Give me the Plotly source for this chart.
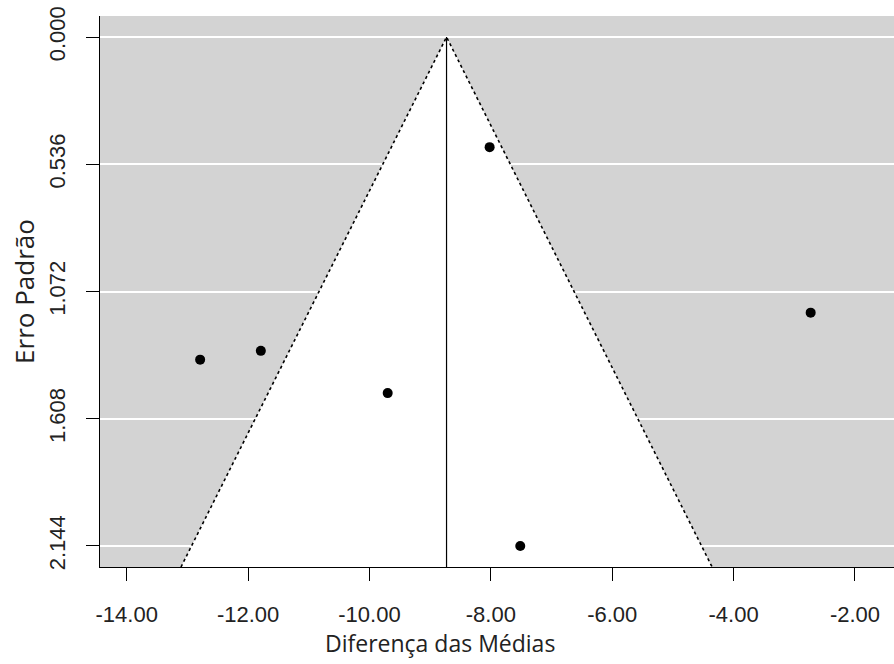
import plotly.graph_objects as go

# Study data
mean_diff = [-8.02, -2.73, -12.79, -11.79, -9.70, -7.515]
std_err = [0.464, 1.161, 1.359, 1.322, 1.500, 2.144]

# Pooled estimate and funnel settings
pooled = -8.73
z = 1.96

x_ticks = [-14, -12, -10, -8, -6, -4, -2]
x_tick_text = ["-14.00", "-12.00", "-10.00", "-8.00", "-6.00", "-4.00", "-2.00"]
y_ticks = [0.0, 0.536, 1.072, 1.608, 2.144]
y_tick_text = ["0.000", "0.536", "1.072", "1.608", "2.144"]

x_range = [-14.44, -1.357]
y_bottom = 2.2325
y_top = -0.0885

funnel_x = [pooled - z * y_bottom, pooled, pooled + z * y_bottom]
funnel_y = [y_bottom, 0.0, y_bottom]

fig = go.Figure()
# white funnel region
fig.add_trace(go.Scatter(
    x=funnel_x + [funnel_x[0]], y=funnel_y + [funnel_y[0]],
    fill="toself", fillcolor="white", mode="lines",
    line=dict(width=0, color="white"), hoverinfo="skip", showlegend=False))
# dotted funnel edges
fig.add_trace(go.Scatter(
    x=funnel_x, y=funnel_y, mode="lines",
    line=dict(color="black", width=1.6, dash="dot"),
    hoverinfo="skip", showlegend=False))
# vertical line at pooled estimate
fig.add_trace(go.Scatter(
    x=[pooled, pooled], y=[0.0, y_bottom], mode="lines",
    line=dict(color="black", width=1.2), hoverinfo="skip", showlegend=False))
# study points
fig.add_trace(go.Scatter(
    x=mean_diff, y=std_err, mode="markers",
    marker=dict(color="black", size=10), showlegend=False))

tick_font = dict(family="Liberation Sans, Arial", size=22, color="#222222")
xtitle_font = dict(family="Open Sans, Noto Sans", size=23, color="#222222")
ytitle_font = dict(family="Open Sans, Noto Sans", size=26, color="#222222")

fig.update_layout(
    width=894, height=664,
    margin=dict(l=100, r=0, t=16, b=97),
    paper_bgcolor="white", plot_bgcolor="#D3D3D3",
    showlegend=False,
    xaxis=dict(
        range=x_range, tickmode="array", tickvals=x_ticks, ticktext=x_tick_text,
        showgrid=False, zeroline=False, showline=True, linecolor="black", linewidth=1.3,
        ticks="outside", ticklen=13, tickwidth=1.3, tickcolor="black",
        tickfont=tick_font, ticklabelstandoff=14,
    ),
    yaxis=dict(
        range=[y_bottom, y_top], tickmode="array", tickvals=y_ticks, ticktext=y_tick_text,
        showgrid=True, gridcolor="white", gridwidth=1.5, zeroline=False,
        showline=True, linecolor="black", linewidth=1.3,
        ticks="outside", ticklen=13, tickwidth=1.3, tickcolor="black",
        tickfont=tick_font, tickangle=-90, ticklabelstandoff=12,
        title=dict(text="Erro Padrão", font=ytitle_font, standoff=2),
    ),
    annotations=[dict(
        text="Diferença das Médias", font=xtitle_font, showarrow=False,
        xref="paper", yref="paper", x=0.428, y=0, xanchor="center",
        yanchor="middle", yshift=-76,
    )],
)

fig.write_html(
    "out.html",
    config={"displayModeBar": False},
    post_script="document.body.style.margin='0';document.body.style.overflow='hidden';",
)
